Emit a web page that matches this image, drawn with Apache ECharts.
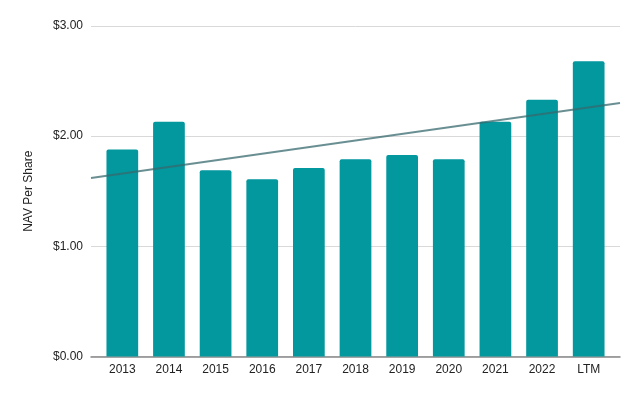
<!DOCTYPE html>
<html><head><meta charset="utf-8">
<script src="https://cdn.jsdelivr.net/npm/echarts@6/dist/echarts.min.js"></script>
<style>html,body{margin:0;padding:0;background:#fff}#c{width:640px;height:396px}</style>
</head><body><div id="c"></div>
<script>
const categories = ['2013','2014','2015','2016','2017','2018','2019','2020','2021','2022','LTM'];
const navPerShare = [1.88, 2.13, 1.69, 1.61, 1.71, 1.79, 1.83, 1.79, 2.13, 2.33, 2.68];
const yTicks = [0, 1, 2, 3];

// least-squares trendline over category index
const n = navPerShare.length;
const xm = (n - 1) / 2;
const ym = navPerShare.reduce((a, b) => a + b, 0) / n;
let sxy = 0, sxx = 0;
navPerShare.forEach((v, i) => { sxy += (i - xm) * (v - ym); sxx += (i - xm) * (i - xm); });
const slope = sxy / sxx;
const xLo = -0.676, xHi = n - 1 + 0.676;
const trend = [[xLo, ym + slope * (xLo - xm)], [xHi, ym + slope * (xHi - xm)]];

const font = 'Liberation Sans, Arial, sans-serif';
const chart = echarts.init(document.getElementById('c'));
chart.setOption({
  animation: false,
  grid: [
    {left: 91, right: 20, top: 26, bottom: 39.5},
    {left: 99, right: 28, top: 26, bottom: 39.5}
  ],
  xAxis: [
    {gridIndex: 0, type: 'value', min: xLo, max: xHi,
     axisLine: {show: true, onZero: false, lineStyle: {color: '#888', width: 1.5}},
     axisTick: {show: false}, axisLabel: {show: false}, splitLine: {show: false}},
    {gridIndex: 1, type: 'category', data: categories,
     axisLine: {show: false}, axisTick: {show: false},
     axisLabel: {color: '#222', fontFamily: font, fontSize: 12, margin: 7}}
  ],
  yAxis: [
    {gridIndex: 0, type: 'value', min: yTicks[0], max: yTicks[yTicks.length - 1], interval: 1,
     name: 'NAV Per Share', nameLocation: 'middle', nameGap: 56,
     nameTextStyle: {color: '#222', fontFamily: font, fontSize: 12},
     axisLabel: {color: '#222', fontFamily: font, fontSize: 12, margin: 8,
       formatter: v => '$' + v.toFixed(2)},
     axisLine: {show: false}, axisTick: {show: false},
     splitLine: {lineStyle: {color: '#d9d9d9', width: 1}}},
    {gridIndex: 1, type: 'value', min: yTicks[0], max: yTicks[yTicks.length - 1], show: false}
  ],
  series: [
    {type: 'bar', xAxisIndex: 1, yAxisIndex: 1, data: navPerShare, barWidth: '68%',
     itemStyle: {color: '#03979e', borderRadius: [2, 2, 0, 0]}, z: 2},
    {type: 'line', xAxisIndex: 0, yAxisIndex: 0, data: trend, symbol: 'none',
     lineStyle: {color: 'rgba(55,105,110,0.75)', width: 2}, z: 3}
  ]
});
</script></body></html>
